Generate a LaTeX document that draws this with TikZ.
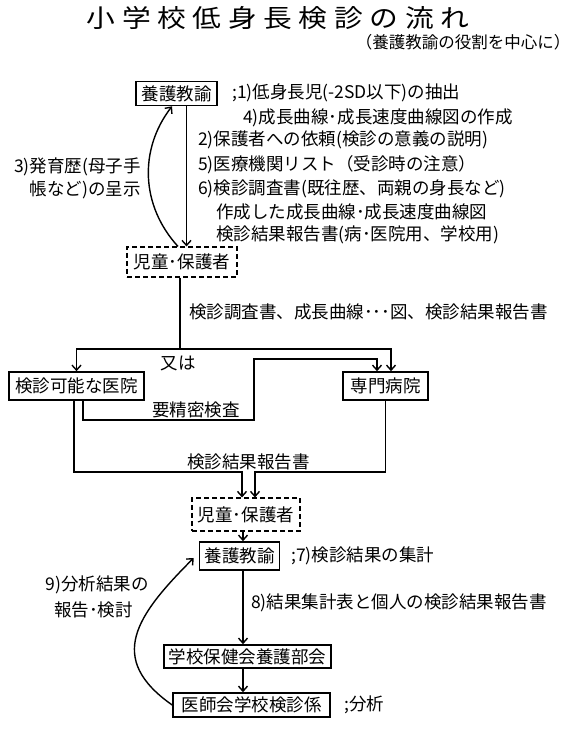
\documentclass[tikz,border=0pt]{standalone}
\usepackage{fontspec}
\setmainfont{Noto Sans CJK JP}
\newfontfamily\titlefont[LetterSpace=23]{Noto Sans CJK JP}
\usetikzlibrary{arrows.meta, positioning}

\begin{document}
\begin{tikzpicture}[x=1pt, y=1pt,
    every node/.style={font=\fontsize{17.5}{23}\selectfont},
    box/.style={draw, line width=1.6pt, inner xsep=5pt, inner ysep=0pt, minimum height=24pt},
    dbox/.style={draw, dashed, dash pattern=on 5pt off 3pt, line width=1.1pt, inner xsep=5pt, inner ysep=0pt, minimum height=30pt},
    arrow/.style={-{Straight Barb[length=5pt, width=9pt]}, line width=1.4pt},
    link/.style={line width=1.4pt},
    note/.style={inner sep=1pt, anchor=west}
]
\useasboundingbox (0,0) rectangle (580,730);

% Title
\node (title) at (278,712) {\titlefont\fontsize{25}{27}\selectfont\scalebox{1.15}[1]{小学校低身長検診の流れ}};
\node[anchor=east, font=\fontsize{16.5}{20}\selectfont] (subtitle) at (574,688) {（養護教諭の役割を中心に）};

% Yogo kyoyu -> jidou / hogosha
\node[box, minimum width=81pt] (yogo1) at (176.5,636.5) {養護教諭};
\node[note] (t1) at (231,637) {;1)低身長児(-2SD以下)の抽出};
\node[note] (t4) at (242,612) {4)成長曲線･成長速度曲線図の作成};
\node[note] (t2) at (197,590) {2)保護者への依頼(検診の意義の説明)};
\node[note] (t5) at (197,565) {5)医療機関リスト（受診時の注意）};
\node[note] (t6) at (197,541) {6)検診調査書(既往歴、両親の身長など)};
\node[note] (t6a) at (215,518) {作成した成長曲線･成長速度曲線図};
\node[note] (t6b) at (215,495) {検診結果報告書(病･医院用、学校用)};
\node[anchor=east, align=right, inner sep=1pt] (t3) at (142,551.5) {3)発育歴(母子手\\帳など)の呈示};
\node[dbox, minimum width=110pt] (jidou1) at (182,468) {児童･保護者};
\draw[arrow] ([xshift=10pt]yogo1.south) -- ([xshift=10pt]yogo1.south |- jidou1.north);
\draw[arrow] ([xshift=-4pt]jidou1.north) to[bend left=40] ([xshift=-4.5pt]yogo1.south);

% Hospitals
\node[note] (docs) at (188,418) {検診調査書、成長曲線･･･図、検診結果報告書};
\node (mata) at (178,367) {又は};
\node[box, minimum width=135pt, minimum height=28pt] (clinic) at (76.5,344) {検診可能な医院};
\node[box, minimum width=85pt, minimum height=28pt] (senmon) at (385.5,344) {専門病院};
\coordinate (fork) at (180,381);
\draw[link] (fork |- jidou1.south) -- (fork);
\draw[arrow] (fork) -| (clinic.north);
\draw[arrow] (fork) -| ([xshift=5.5pt]senmon.north);
\draw[arrow] ([xshift=6.5pt]clinic.south) |- node[pos=0.83, above, inner sep=1pt] {要精密検査} (254,310) -- (254,371) -| ([xshift=-8.5pt]senmon.north);

% Results back
\coordinate (mergeL) at (242,258);
\coordinate (mergeR) at (255,258);
\node (kekka) at (248.5,268) {検診結果報告書};
\node[dbox, minimum width=108pt, minimum height=33pt] (jidou2) at (246,215.5) {児童･保護者};
\draw[arrow] ([xshift=-2.5pt]clinic.south) |- (mergeL) -- (mergeL |- jidou2.north);
\draw[arrow] (senmon.south) |- (mergeR) -- (mergeR |- jidou2.north);

% Summary and analysis
\node[box, minimum width=75pt, minimum height=28pt] (yogo2) at (239.5,174) {養護教諭};
\node[note] (t7) at (290,174) {;7)検診結果の集計};
\node[note] (t8) at (250,127) {8)結果集計表と個人の検診結果報告書};
\node[box, minimum width=165pt, minimum height=23pt] (gakko) at (247.5,73.5) {学校保健会養護部会};
\node[box, minimum width=157pt, minimum height=24pt] (ishi) at (251.5,25) {医師会学校検診係};
\node[note] (bunseki) at (343,25) {;分析};
\node[anchor=east, inner sep=1pt] (t9) at (150,145) {9)分析結果の};
\node[anchor=east, inner sep=1pt] (t9b) at (134,120) {報告･検討};
\draw[arrow] ([xshift=-3pt]jidou2.south) -- ([xshift=3.5pt]yogo2.north);
\draw[arrow] ([xshift=3.5pt]yogo2.south) -- ([xshift=-4.5pt]gakko.north);
\draw[arrow] ([xshift=-4.5pt]gakko.south) -- ([xshift=-8.5pt]ishi.north);
\draw[arrow] (ishi.west) to[out=145, in=225, looseness=1.4] ([xshift=-5pt, yshift=-2pt]yogo2.west);
\end{tikzpicture}
\end{document}
